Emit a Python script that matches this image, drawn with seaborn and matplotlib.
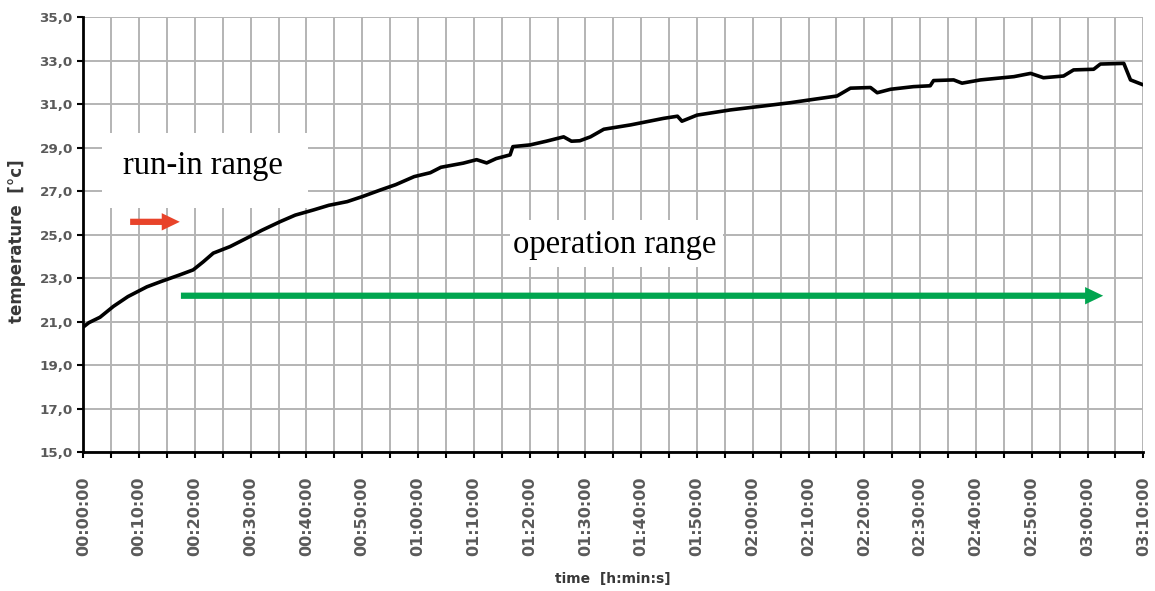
import matplotlib
matplotlib.use("Agg")
import matplotlib.pyplot as plt
import matplotlib.ticker as mticker
from matplotlib.patches import Rectangle
import numpy as np
import pandas as pd
import seaborn as sns

# ---- data (minutes since start, temperature in °C) ----
time_min = [0, 1, 3, 5.4, 8, 11.4, 14, 17.3, 19.7, 21.5, 23.3, 26.3, 29.3, 32, 35.3,
            38, 41.3, 44, 47.3, 50, 53.3, 56, 59.3, 62.2, 64.1, 68.1, 70.5, 72.3, 74,
            76.5, 77.0, 80.1, 83, 86.1, 87.5, 89, 90.9, 93.3, 98.1, 104, 106.5, 107.3,
            110, 116, 121.9, 126.7, 131, 135.1, 137.5, 141.1, 142.3, 144.7, 148.8,
            151.8, 152.4, 156, 157.5, 160.8, 166.8, 169.8, 172.1, 175.7, 177.5, 181.1,
            182.3, 186.5, 187.7, 190]
temperature = [20.75, 20.95, 21.2, 21.7, 22.15, 22.6, 22.85, 23.15, 23.38, 23.75, 24.15,
               24.45, 24.84, 25.2, 25.6, 25.9, 26.14, 26.35, 26.52, 26.75, 27.06, 27.3,
               27.67, 27.85, 28.1, 28.29, 28.45, 28.3, 28.5, 28.67, 29.05, 29.13, 29.3,
               29.5, 29.3, 29.32, 29.5, 29.85, 30.05, 30.35, 30.45, 30.22, 30.5, 30.74,
               30.92, 31.07, 31.23, 31.38, 31.74, 31.77, 31.53, 31.69, 31.81, 31.85,
               32.09, 32.12, 31.97, 32.12, 32.27, 32.42, 32.22, 32.3, 32.58, 32.61,
               32.85, 32.88, 32.12, 31.89]

x_ticks_min = list(range(0, 191, 10))
y_ticks = [15, 17, 19, 21, 23, 25, 27, 29, 31, 33, 35]

run_in_label = "run-in range"
operation_label = "operation range"
x_label = "time  [h:min:s]"
y_label = "temperature  [°c]"

df = pd.DataFrame({"time": time_min, "temperature": temperature})

sns.set_style("white")
fig = plt.figure(figsize=(11.55, 5.91), dpi=100)
ax = fig.add_axes([0.0721, 0.2352, 0.9178, 0.7355])

grid_color = "#b4b4b4"
ax.set_xlim(0, 190)
ax.set_ylim(15, 35)
ax.set_xticks(x_ticks_min)
ax.set_xticks([t + 5 for t in x_ticks_min[:-1]], minor=True)
ax.set_yticks(y_ticks)
ax.grid(True, which="both", axis="x", color=grid_color, lw=1.4, zorder=0)
ax.grid(True, which="major", axis="y", color=grid_color, lw=1.4, zorder=0)
ax.set_axisbelow(True)

sns.lineplot(data=df, x="time", y="temperature", ax=ax, color="black", lw=2.6,
             zorder=3)

def fmt_time(v, pos):
    m = int(round(v))
    return f"{m // 60:02d}:{m % 60:02d}:00"

ax.xaxis.set_major_formatter(mticker.FuncFormatter(fmt_time))
ax.yaxis.set_major_formatter(mticker.FuncFormatter(lambda v, p: f"{v:.1f}".replace(".", ",")))

for s in ["top", "right"]:
    ax.spines[s].set_visible(False)
for s in ["left", "bottom"]:
    ax.spines[s].set_color("black")
    ax.spines[s].set_linewidth(2)

tick_color = "#5a5a5a"
ax.tick_params(axis="x", which="both", direction="out", length=4.5, width=1.5,
               color="black", bottom=True, pad=13)
ax.tick_params(axis="x", which="major", labelsize=11.5, labelcolor=tick_color,
               labelrotation=90)
ax.tick_params(axis="y", which="major", direction="out", length=4.5, width=1.5,
               color="black", left=True, labelsize=9.7, labelcolor=tick_color, pad=3)
for lab in ax.get_xticklabels() + ax.get_yticklabels():
    lab.set_fontweight("bold")
    lab.set_family("DejaVu Sans")

ax.set_xlabel(x_label, fontsize=10, fontweight="bold", color="#383838")
ax.set_ylabel(y_label, fontsize=12, fontweight="bold", color="#383838")
ax.xaxis.set_label_coords(0.5, -0.277)
ax.yaxis.set_label_coords(-0.054, 0.485)

# white boxes behind annotation texts
ax.add_patch(Rectangle((3.3, 26.23), 37.0, 3.45, facecolor="white", edgecolor="none",
                       zorder=2))
ax.add_patch(Rectangle((76.5, 23.52), 38.2, 2.16, facecolor="white", edgecolor="none",
                       zorder=2))
ax.text(21.4, 28.16, run_in_label, fontsize=23.5, family="Liberation Serif",
        ha="center", va="center", color="black", zorder=4)
ax.text(95.3, 24.53, operation_label, fontsize=23.5, family="Liberation Serif",
        ha="center", va="center", color="black", zorder=4)

# arrows
arrow_style = "simple,head_length=1.3,head_width=1.25,tail_width=0.45"
ax.annotate("", xy=(17.3, 25.59), xytext=(8.4, 25.59),
            arrowprops=dict(arrowstyle=arrow_style, facecolor="#e8432a",
                            edgecolor="none", lw=0, shrinkA=0, shrinkB=0,
                            mutation_scale=10), zorder=4)
ax.annotate("", xy=(182.8, 22.19), xytext=(17.5, 22.19),
            arrowprops=dict(arrowstyle=arrow_style, facecolor="#00a54f",
                            edgecolor="none", lw=0, shrinkA=0, shrinkB=0,
                            mutation_scale=10), zorder=4)

fig.savefig("out.png", dpi=100)
